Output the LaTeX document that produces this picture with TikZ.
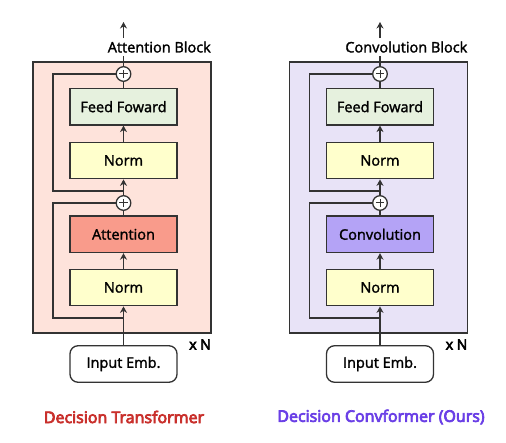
\documentclass[tikz,border=0pt]{standalone}
\usepackage{fontspec}
\setmainfont{Open Sans}[AutoFakeBold=4.5]
\newfontfamily\medfont{Open Sans}[FakeBold=1.8]
\usetikzlibrary{arrows.meta}

\definecolor{dtpanel}{HTML}{FEE3DB}
\definecolor{dcpanel}{HTML}{E8E3F7}
\definecolor{ffgreen}{HTML}{E6F1DE}
\definecolor{normyellow}{HTML}{FFFFCC}
\definecolor{attnred}{HTML}{F99B8B}
\definecolor{convpurple}{HTML}{B4A3F6}
\definecolor{dtred}{HTML}{C9302C}
\definecolor{dcpurple}{HTML}{6A3FE6}
\definecolor{edge}{HTML}{333333}

\begin{document}
\begin{tikzpicture}[
    x=1pt, y=-1pt,
    >={Stealth[length=6.5pt,width=7pt]},
    panel/.style={
        draw=edge,
        line width=1.3pt,
        minimum width=178pt,
        minimum height=271pt
    },
    box/.style={
        draw=edge,
        line width=1.3pt,
        minimum width=107pt,
        minimum height=36.5pt,
        align=center,
        font=\medfont\fontsize{14.5}{17}\selectfont
    },
    plus/.style={
        circle, draw=edge, fill=white,
        line width=1.3pt,
        minimum size=14.6pt, inner sep=0pt,
        path picture={
            \draw[line width=1pt, edge]
                ([xshift=-4.2pt]path picture bounding box.center) -- ([xshift=4.2pt]path picture bounding box.center)
                ([yshift=-4.2pt]path picture bounding box.center) -- ([yshift=4.2pt]path picture bounding box.center);
        }
    },
    lbl/.style={inner xsep=0pt, inner ysep=3pt, font=\medfont\fontsize{14.5}{17}\selectfont},
    title/.style={font=\fontsize{16}{19}\selectfont\bfseries},
    arr/.style={->, line width=1.3pt, draw=edge},
    wire/.style={line width=1.3pt, draw=edge}
]
    \useasboundingbox (0,0) rectangle (506,443);

    % Decision Transformer
    \node[panel, fill=dtpanel] (blockL) at (122,197.5) {};
    \node[plus] (plus1L) at (123.5,74) {};
    \node[box, fill=ffgreen] (ffL) at (123.5,106.7) {Feed Foward};
    \node[box, fill=normyellow] (norm2L) at (123.5,160.5) {Norm};
    \node[plus] (plus2L) at (123.5,203) {};
    \node[box, fill=attnred] (attnL) at (123.5,234.3) {Attention};
    \node[box, fill=normyellow] (norm1L) at (123.5,287.5) {Norm};
    \node[box, rounded corners=8pt, fill=white] (embL) at (123.5,364) {Input Emb.};
    \node[lbl, anchor=east] (labelL) at (211,47) {Attention Block};
    \node[inner sep=0pt, anchor=east, font=\fontsize{14}{16}\selectfont\bfseries] (repL) at (211,344.5) {x N};
    \node[title, text=dtred] (titleL) at (124,417) {Decision Transformer};
    \coordinate (res1L) at (123.5,318);
    \coordinate (res2L) at (123.5,191);
    \coordinate (outL) at (123.5,22);

    \draw[arr] (embL) -- (norm1L);
    \draw[arr] (norm1L) -- (attnL);
    \draw[wire] (attnL) -- (plus2L);
    \draw[arr] (plus2L) -- (norm2L);
    \draw[arr] (norm2L) -- (ffL);
    \draw[wire] (ffL) -- (plus1L);
    \draw[wire] (res1L) -- ++(-70.5,0) |- (plus2L.west);
    \draw[wire] (res2L) -- ++(-70.5,0) |- (plus1L.west);
    \draw[wire] (plus1L) -- (plus1L |- labelL.south);
    \draw[arr] (plus1L |- labelL.north) -- (outL);

    % Decision Convformer
    \node[panel, fill=dcpanel] (blockR) at (378.5,197.5) {};
    \node[plus] (plus1R) at (380,74) {};
    \node[box, fill=ffgreen] (ffR) at (380,106.7) {Feed Foward};
    \node[box, fill=normyellow] (norm2R) at (380,160.5) {Norm};
    \node[plus] (plus2R) at (380,203) {};
    \node[box, fill=convpurple] (convR) at (380,234.3) {Convolution};
    \node[box, fill=normyellow] (norm1R) at (380,287.5) {Norm};
    \node[box, rounded corners=8pt, fill=white] (embR) at (380,364) {Input Emb.};
    \node[lbl, anchor=east] (labelR) at (467.5,47) {Convolution Block};
    \node[inner sep=0pt, anchor=east, font=\fontsize{14}{16}\selectfont\bfseries] (repR) at (467.5,344.5) {x N};
    \node[title, text=dcpurple] (titleR) at (381,417) {Decision Convformer (Ours)};
    \coordinate (res1R) at (380,318);
    \coordinate (res2R) at (380,191);
    \coordinate (outR) at (380,22);

    \draw[arr] (embR) -- (norm1R);
    \draw[arr] (norm1R) -- (convR);
    \draw[wire] (convR) -- (plus2R);
    \draw[arr] (plus2R) -- (norm2R);
    \draw[arr] (norm2R) -- (ffR);
    \draw[wire] (ffR) -- (plus1R);
    \draw[wire] (res1R) -- ++(-70.5,0) |- (plus2R.west);
    \draw[wire] (res2R) -- ++(-70.5,0) |- (plus1R.west);
    \draw[wire] (plus1R) -- (plus1R |- labelR.south);
    \draw[arr] (plus1R |- labelR.north) -- (outR);
\end{tikzpicture}
\end{document}
